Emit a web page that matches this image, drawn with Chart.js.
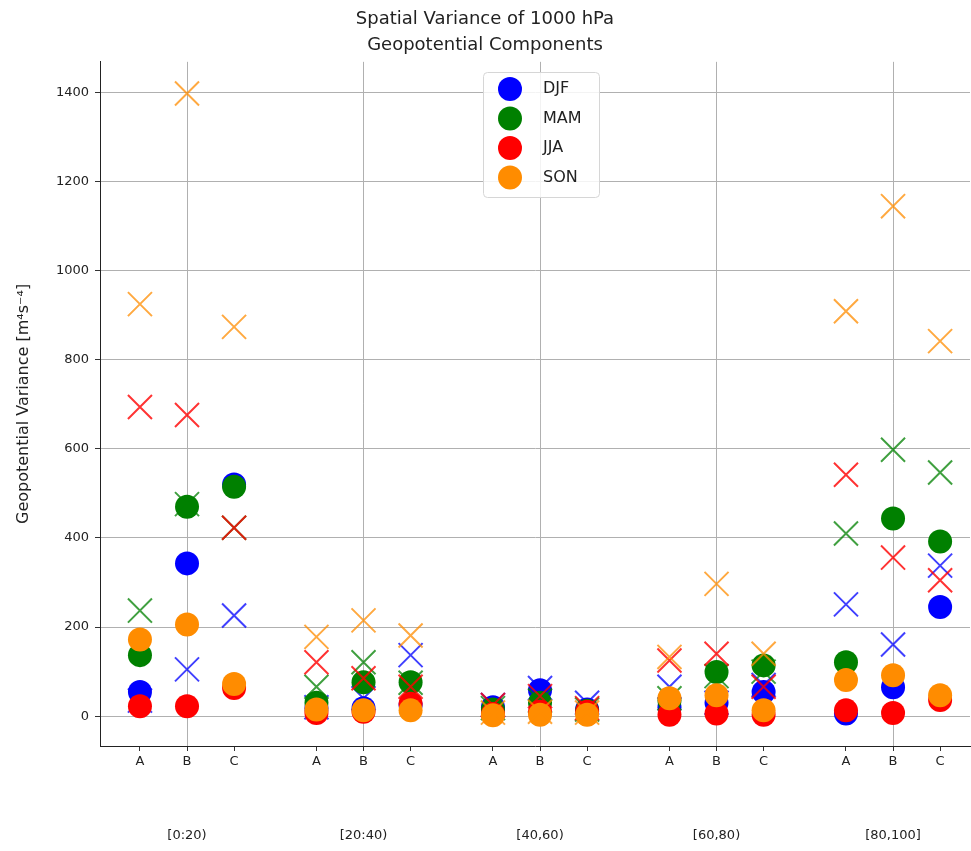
<!DOCTYPE html>
<html lang="en">
<head>
<meta charset="UTF-8" />
<title>Spatial Variance of 1000 hPa Geopotential Components</title>
<script src="https://cdn.jsdelivr.net/npm/chart.js"></script>
<style>
  html, body { margin: 0; padding: 0; background: #fff; overflow: hidden; }
  canvas { display: block; }
</style>
</head>
<body>
<canvas id="chart" width="971" height="851"></canvas>
<script>
// datos: A, B, C por cada rango
const groupLabels = ['[0:20)', '[20:40)', '[40,60)', '[60,80)', '[80,100]'];
const subLabels = ['A', 'B', 'C'];
const yTicks = [0, 200, 400, 600, 800, 1000, 1200, 1400];

const djfCircle = [54, 343, 520,   18, 18, 25,    20, 58, 15,   20, 30, 54,    6, 65, 245];
const djfCross  = [35, 105, 226,   20, 40, 137,   25, 63, 30,   66, 30, 70,    251, 161, 338];
const mamCircle = [137, 470, 515,  30, 76, 76,    15, 30, 12,   35, 99, 114,   121, 444, 392];
const mamCross  = [237, 476, 423,  66, 121, 75,   18, 35, 15,   40, 90, 100,   410, 598, 547];
const jjaCircle = [22, 22, 63,     7, 10, 28,     5, 10, 10,    3, 6, 3,       13, 7, 36];
const jjaCross  = [694, 676, 423,  121, 85, 66,   25, 45, 18,   125, 140, 66,  542, 356, 305];
const sonCircle = [172, 206, 72,   15, 13, 13,    2, 3, 3,      40, 47, 13,    81, 92, 47];
const sonCross  = [925, 1398, 874, 178, 215, 181, 8, 10, 8,     133, 297, 140, 909, 1145, 842];

const seasons = ['DJF', 'MAM', 'JJA', 'SON'];
const colors = ['#0000ff', '#008000', '#ff0000', '#ff8c00'];
const crossColors = ['rgba(0,0,255,0.75)', 'rgba(0,128,0,0.75)', 'rgba(255,0,0,0.8)', 'rgba(255,140,0,0.75)'];

const offset = 0.8 / 3;
function xPos(i) {
  const g = Math.floor(i / 3), s = i % 3;
  return g + (s - 1) * offset;
}
function toPoints(vals) {
  return vals.map((v, i) => ({ x: xPos(i), y: v }));
}

const circles = [djfCircle, mamCircle, jjaCircle, sonCircle];
const crosses = [djfCross, mamCross, jjaCross, sonCross];
const datasets = [];
seasons.forEach((s, k) => {
  datasets.push({
    label: s,
    data: toPoints(circles[k]),
    pointStyle: 'circle',
    pointRadius: 12,
    pointHoverRadius: 12,
    backgroundColor: colors[k],
    borderColor: colors[k],
    borderWidth: 0
  });
  datasets.push({
    label: s + ' x',
    data: toPoints(crosses[k]),
    pointStyle: 'crossRot',
    pointRadius: 17,
    pointHoverRadius: 17,
    borderColor: crossColors[k],
    backgroundColor: crossColors[k],
    borderWidth: 2
  });
});
// el ultimo encima, como en matplotlib
datasets.forEach((d, i) => { d.order = datasets.length - i; });

const font = 'DejaVu Sans';

// leyenda dentro del area, como en matplotlib
const legendBox = {
  id: 'legendBox',
  afterDatasetsDraw(chart) {
    const ctx = chart.ctx;
    const x0 = 483, y0 = 72, w = 116, h = 125;
    ctx.save();
    ctx.fillStyle = 'rgba(255,255,255,0.85)';
    ctx.strokeStyle = '#d6d6d6';
    ctx.lineWidth = 1;
    ctx.beginPath();
    ctx.roundRect(x0 + 0.5, y0 + 0.5, w, h, 4);
    ctx.fill();
    ctx.stroke();
    ctx.font = '16px ' + font;
    ctx.textBaseline = 'middle';
    seasons.forEach((s, k) => {
      const cy = y0 + 17 + k * 29.5;
      ctx.fillStyle = colors[k];
      ctx.beginPath();
      ctx.arc(510, cy, 12, 0, Math.PI * 2);
      ctx.fill();
      ctx.fillStyle = '#222';
      ctx.fillText(s, 543, cy);
    });
    ctx.restore();
  }
};

new Chart(document.getElementById('chart'), {
  type: 'scatter',
  data: { datasets },
  plugins: [legendBox],
  options: {
    responsive: false,
    animation: false,
    layout: { autoPadding: false, padding: { left: 0, right: 1, top: 0, bottom: 0 } },
    plugins: {
      legend: { display: false },
      tooltip: { enabled: false },
      title: {
        display: true,
        text: ['Spatial Variance of 1000 hPa', 'Geopotential Components'],
        color: '#222',
        font: { family: font, size: 18, weight: 'normal', lineHeight: 1.44 },
        padding: { top: 6, bottom: 4 }
      }
    },
    scales: {
      x: {
        type: 'linear',
        min: -0.493,
        max: 4.436,
        afterBuildTicks: sc => {
          sc.ticks = groupLabels.flatMap((g, gi) => subLabels.map((s, si) => ({ value: xPos(gi * 3 + si) })));
        },
        afterFit: sc => { sc.height = 30; sc.paddingLeft = 0; sc.paddingRight = 0; },
        ticks: {
          callback: (v, i) => subLabels[i % 3],
          color: '#222',
          font: { family: font, size: 13 },
          padding: 3,
          maxRotation: 0,
          autoSkip: false
        },
        grid: {
          color: c => (c.index % 3 === 1 ? '#b0b0b0' : 'rgba(0,0,0,0)'),
          tickColor: '#333',
          tickLength: 5,
          lineWidth: 1
        },
        border: { display: true, color: '#222', width: 1 }
      },
      xg: {
        type: 'linear',
        position: 'bottom',
        min: -0.493,
        max: 4.436,
        afterBuildTicks: sc => {
          sc.ticks = groupLabels.map((g, gi) => ({ value: gi }));
        },
        afterFit: sc => { sc.height = 75; sc.paddingLeft = 0; sc.paddingRight = 0; },
        ticks: {
          callback: (v, i) => groupLabels[i],
          color: '#222',
          font: { family: font, size: 13 },
          padding: 52,
          maxRotation: 0,
          autoSkip: false
        },
        grid: { display: false, drawTicks: false },
        border: { display: false }
      },
      y: {
        min: -67,
        max: 1469,
        afterBuildTicks: sc => { sc.ticks = yTicks.map(v => ({ value: v })); },
        afterFit: sc => { sc.width = 100; sc.paddingTop = 0; sc.paddingBottom = 0; },
        ticks: {
          callback: v => String(v),
          color: '#222',
          font: { family: font, size: 13 },
          padding: 6
        },
        grid: { color: '#b0b0b0', tickColor: '#333', tickLength: 5, lineWidth: 1 },
        border: { display: true, color: '#222', width: 1 },
        title: {
          display: true,
          text: 'Geopotential Variance [m⁴s⁻⁴]',
          color: '#222',
          font: { family: font, size: 16 },
          padding: { top: 14, bottom: 0 }
        }
      }
    }
  }
});
</script>
</body>
</html>
